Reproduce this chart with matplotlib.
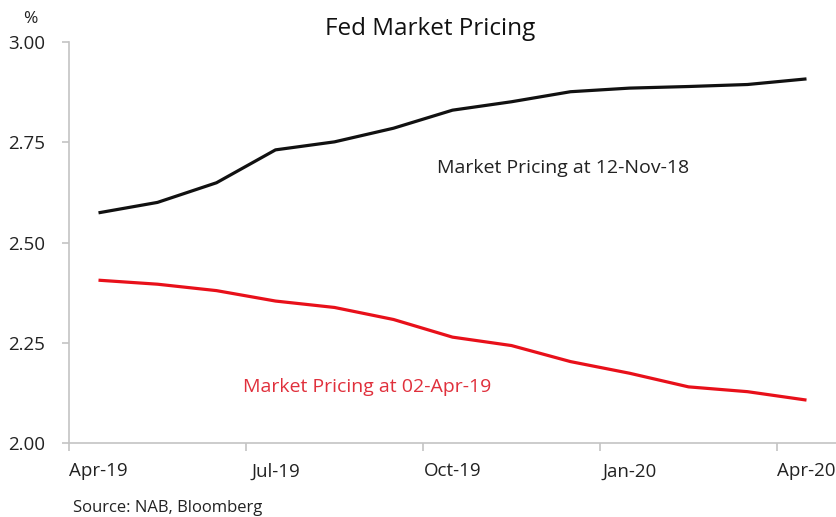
import matplotlib
matplotlib.use("Agg")
import matplotlib.pyplot as plt

plt.rcParams['font.family'] = ['Open Sans', 'DejaVu Sans']

months = ["Apr-19", "May-19", "Jun-19", "Jul-19", "Aug-19", "Sep-19", "Oct-19",
          "Nov-19", "Dec-19", "Jan-20", "Feb-20", "Mar-20", "Apr-20"]
pricing_nov18 = [2.574, 2.600, 2.649, 2.731, 2.751, 2.785, 2.830,
                 2.851, 2.876, 2.885, 2.889, 2.894, 2.908]
pricing_apr19 = [2.406, 2.396, 2.380, 2.354, 2.338, 2.308, 2.264,
                 2.243, 2.203, 2.174, 2.140, 2.128, 2.107]
y_ticks = [2.00, 2.25, 2.50, 2.75, 3.00]

W, H = 837, 517
fig = plt.figure(figsize=(W / 100, H / 100), dpi=100)
ax = fig.add_axes([69 / W, (H - 443) / H, (836 - 69) / W, (443 - 42) / H])

x = list(range(len(months)))
ax.plot(x, pricing_nov18, color="#111111", lw=2.3, solid_capstyle="butt")
ax.plot(x, pricing_apr19, color="#e8101a", lw=2.3, solid_capstyle="butt")

ax.set_xlim(-0.5, len(months) - 0.5)
ax.set_ylim(2.0, 3.0)

axis_grey = "#c4c4c4"
for side in ("top", "right"):
    ax.spines[side].set_visible(False)
for side in ("left", "bottom"):
    ax.spines[side].set_color(axis_grey)
    ax.spines[side].set_linewidth(1.2)

# quarterly tick marks at category boundaries, labels centred on the month
label_idx = list(range(0, len(months), 3))
ax.set_xticks([i - 0.5 for i in label_idx])
ax.set_xticklabels([])
ax.set_xticks(label_idx, minor=True)
ax.set_xticklabels([months[i] for i in label_idx], minor=True)
ax.tick_params(axis="x", which="major", length=6, color=axis_grey, width=1.2)
ax.tick_params(axis="x", which="minor", length=0, pad=14, labelsize=13.5, labelcolor="#222222")

ax.set_yticks(y_ticks)
ax.set_yticklabels([f"{v:.2f}" for v in y_ticks])
ax.tick_params(axis="y", length=5, color=axis_grey, width=1.2, pad=12,
               labelsize=13.5, labelcolor="#222222")

fig.text(30 / W, 1 - 19 / H, "%", ha="center", va="center", fontsize=12.5, color="#222222")
fig.text(430 / W, 1 - 29 / H, "Fed Market Pricing", ha="center", va="center",
         fontsize=17.5, color="#111111")
ax.text(5.73, 2.685, "Market Pricing at 12-Nov-18", ha="left", va="center",
        fontsize=14, color="#222222")
ax.text(2.45, 2.14, "Market Pricing at 02-Apr-19", ha="left", va="center",
        fontsize=14, color="#e0303c")
fig.text(73 / W, 1 - 508 / H, "Source: NAB, Bloomberg", ha="left", va="center",
         fontsize=12, color="#222222")

fig.savefig("out.png", dpi=100)
